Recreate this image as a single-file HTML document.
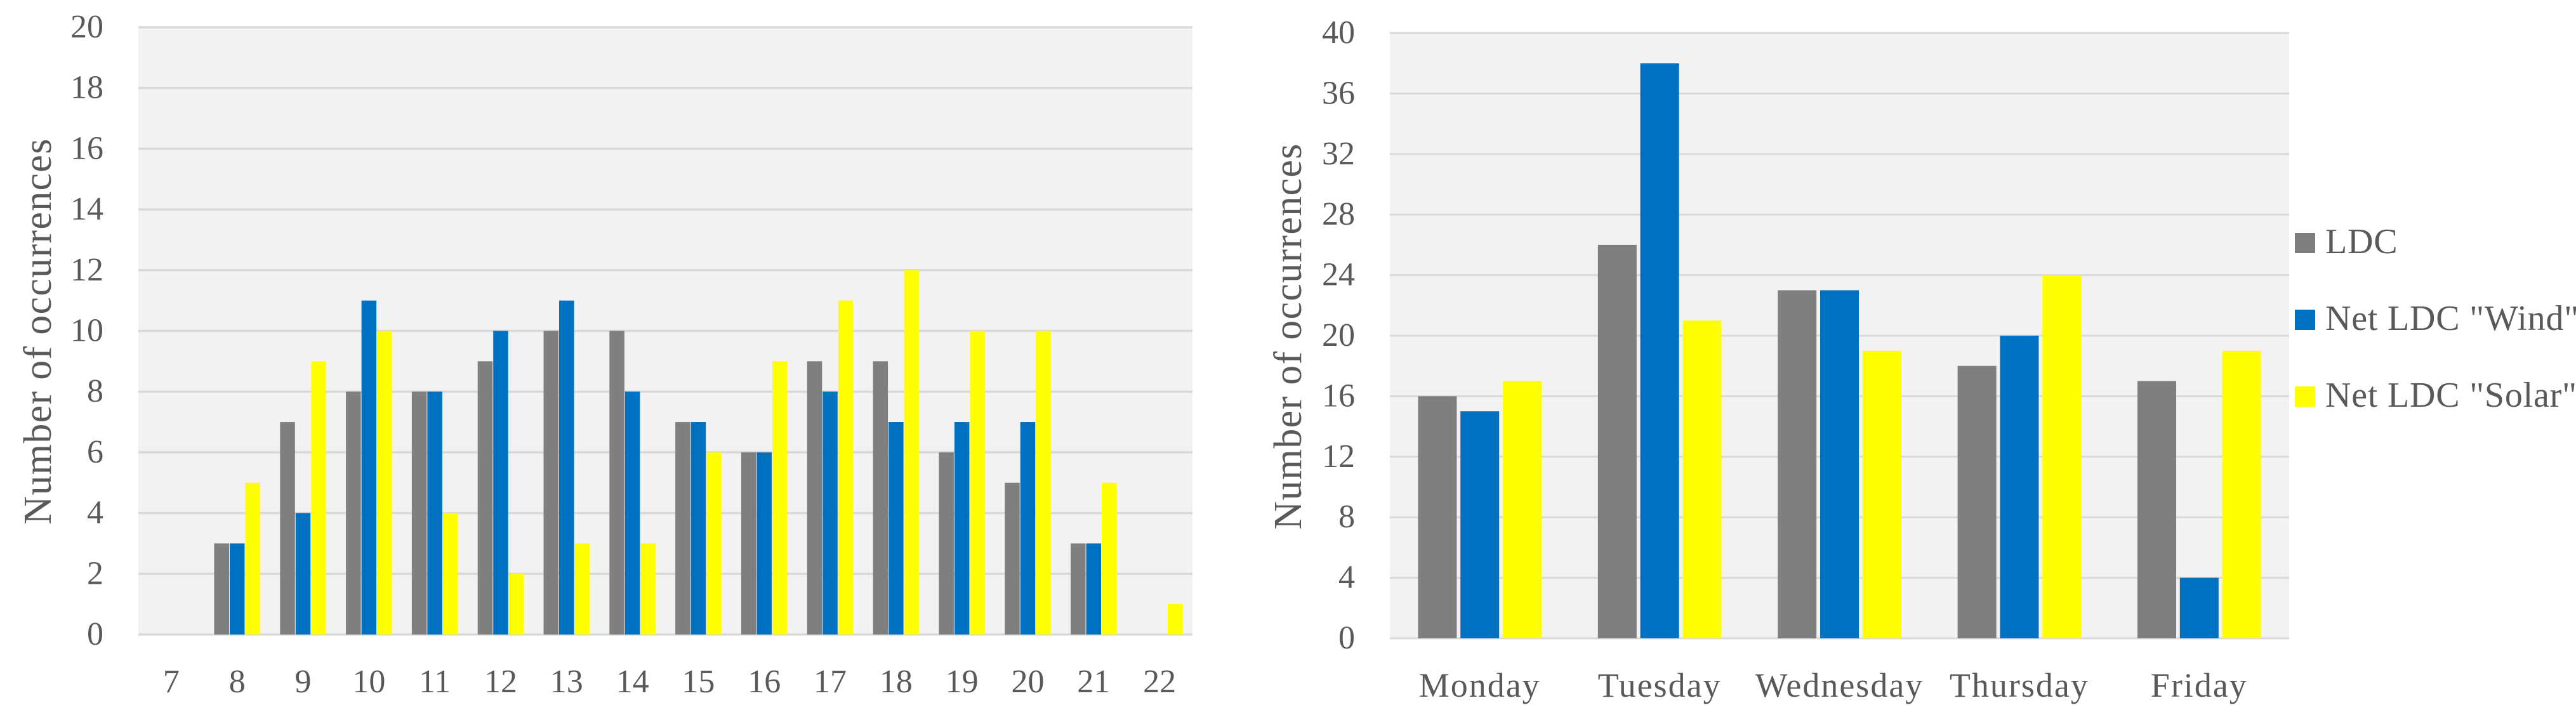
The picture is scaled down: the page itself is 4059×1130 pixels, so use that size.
<!DOCTYPE html>
<html lang="en">
<head>
<meta charset="utf-8">
<title>Number of occurrences charts</title>
<style>
html,body{margin:0;padding:0;background:#fff;}
body{width:4059px;height:1130px;overflow:hidden;}
svg{display:block;}
text{font-family:"Liberation Serif",serif;fill:#595959;}
</style>
</head>
<body>
<svg id="figure" xmlns="http://www.w3.org/2000/svg" width="4059" height="1130" viewBox="0 0 4059 1130"></svg>
<script>
const hourCategories = ["7","8","9","10","11","12","13","14","15","16","17","18","19","20","21","22"];
const hourLdc   = [0,3,7,8,8,9,10,10,7,6,9,9,6,5,3,0];
const hourWind  = [0,3,4,11,8,10,11,8,7,6,8,7,7,7,3,0];
const hourSolar = [0,5,9,10,4,2,3,3,6,9,11,12,10,10,5,1];
const hourTicks = [0,2,4,6,8,10,12,14,16,18,20];

const dayCategories = ["Monday","Tuesday","Wednesday","Thursday","Friday"];
const dayLdc   = [16,26,23,18,17];
const dayWind  = [15,38,23,20,4];
const daySolar = [17,21,19,24,19];
const dayTicks = [0,4,8,12,16,20,24,28,32,36,40];

const seriesNames = ["LDC",'Net LDC "Wind"','Net LDC "Solar"'];
const seriesColors = ["#7f7f7f","#0070c0","#ffff00"];

const NS = "http://www.w3.org/2000/svg";
const figure = document.getElementById("figure");

function make(parent, tag, attrs, text) {
  const el = document.createElementNS(NS, tag);
  for (const k in attrs) el.setAttribute(k, attrs[k]);
  if (text !== undefined) el.textContent = text;
  parent.appendChild(el);
  return el;
}

function drawChart(o) {
  const g = make(figure, "g", {});
  
  

  const yMax = o.ticks[o.ticks.length - 1];
  const yScale = v => o.bottom - (v / yMax) * (o.bottom - o.top);
  const pitch = (o.right - o.left) / o.categories.length;
  const xCenter = i => o.left + pitch * (i + 0.5);

  const plot = make(g, "rect", {x:o.left, y:o.top, width:o.right - o.left, height:o.bottom - o.top, fill:"#f2f2f2"});
  
  

  o.ticks.forEach(t => {
    const y = yScale(t);
    const line = make(g, "line", {x1:o.left, x2:o.right, y1:y, y2:y, stroke:"#d9d9d9", "stroke-width":o.gridWidth});
    
    
    const label = make(g, "text", {x:o.tickX, y:y + 16, "text-anchor":"end", "font-size":52}, String(t));
    
    
  });

  o.series.forEach((values, s) => {
    values.forEach((v, i) => {
      if (v === 0) return;
      const x = xCenter(i) + (s - 1) * o.barStep - o.barWidth / 2;
      const y = yScale(v);
      const bar = make(g, "rect", {x:x, y:y, width:o.barWidth, height:o.bottom - y, fill:seriesColors[s]});
      
      
    });
  });

  o.categories.forEach((c, i) => {
    const label = make(g, "text", {x:xCenter(i), y:o.xLabelY, "text-anchor":"middle", "font-size":o.xFont, "letter-spacing":o.xSpacing}, c);
    
    
  });

  const title = make(g, "text", {
    transform:"translate(" + o.titleX + " " + o.titleY + ") rotate(-90)",
    "text-anchor":"middle", "font-size":62, "letter-spacing":1.3
  }, "Number of occurrences");
  
  
}

drawChart({
  name:"hour-chart", categories:hourCategories, series:[hourLdc,hourWind,hourSolar], ticks:hourTicks,
  left:218, right:1879, top:43, bottom:1000, gridWidth:3.5,
  barWidth:23.5, barStep:24.5, tickX:163, xLabelY:1091, xFont:52, xSpacing:0,
  titleX:80, titleY:522
});

drawChart({
  name:"weekday-chart", categories:dayCategories, series:[dayLdc,dayWind,daySolar], ticks:dayTicks,
  left:2190, right:3607, top:52, bottom:1006, gridWidth:3,
  barWidth:61, barStep:66.8, tickX:2135, xLabelY:1098, xFont:54, xSpacing:2,
  titleX:2050, titleY:530
});

const legend = make(figure, "g", {});


seriesNames.forEach((name, i) => {
  const top = 367 + i * 121;
  const swatch = make(legend, "rect", {x:3616, y:top, width:32, height:32, fill:seriesColors[i]});
  
  
  const label = make(legend, "text", {x:3664, y:top + 32, "font-size":56, "letter-spacing":0.8}, name);
  
  
});
</script>
</body>
</html>
